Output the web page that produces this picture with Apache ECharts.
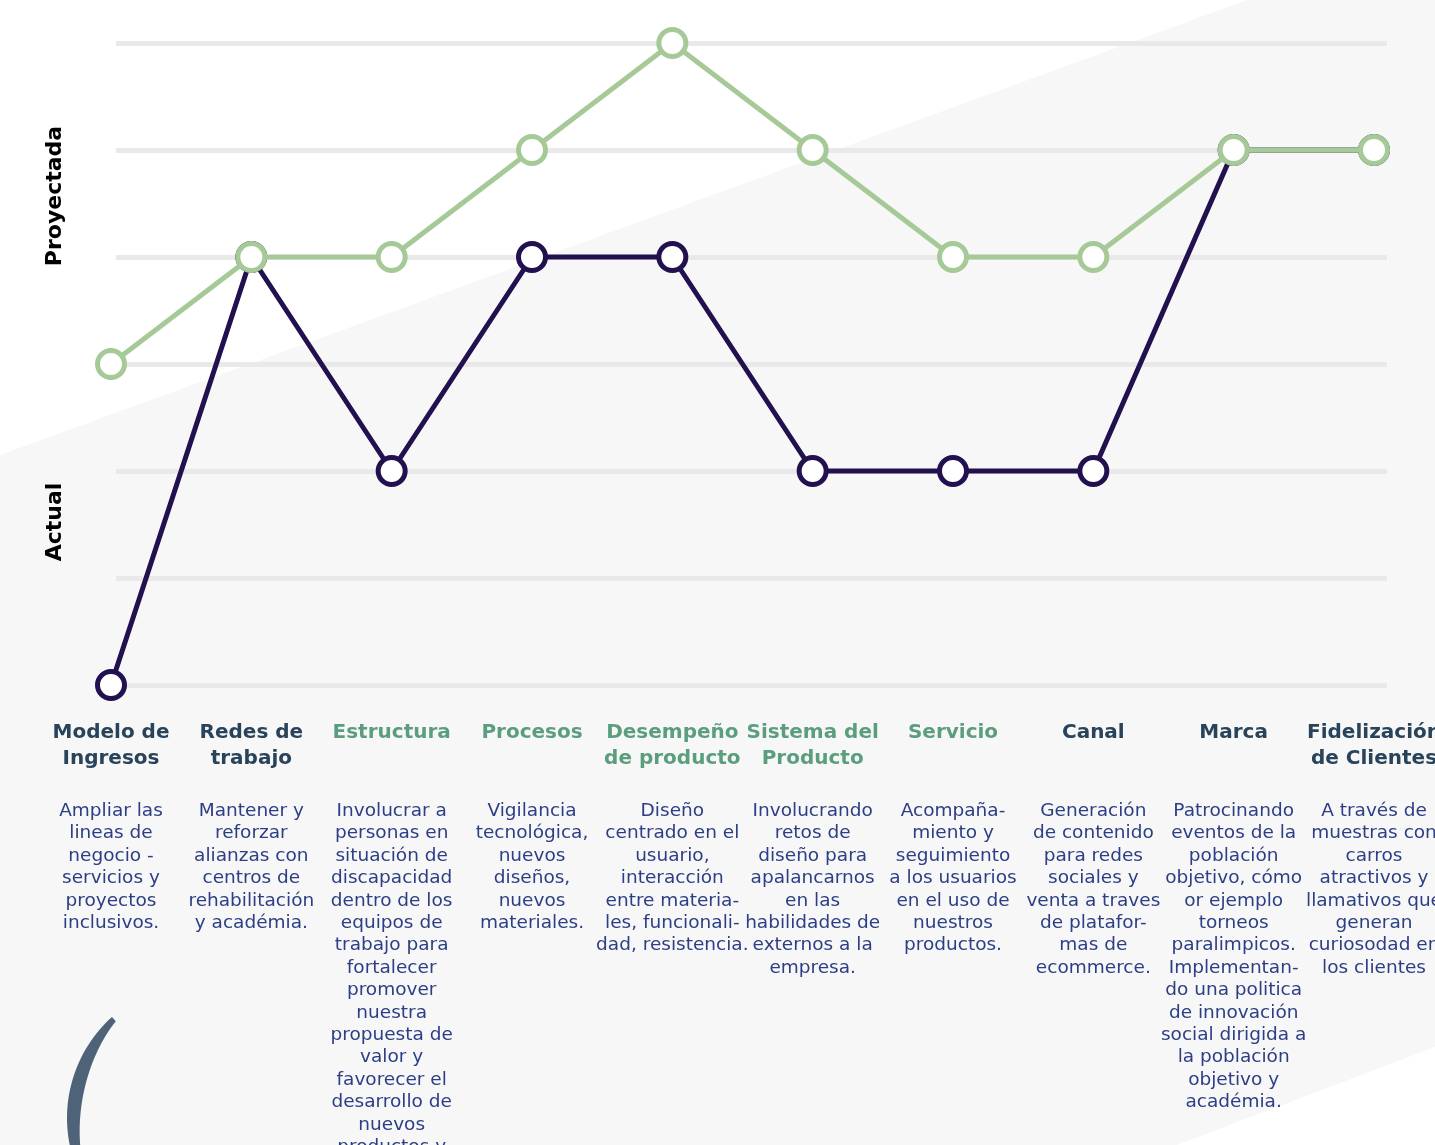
<!DOCTYPE html>
<html>
<head>
<meta charset="utf-8">
<script src="https://cdn.jsdelivr.net/npm/echarts@6/dist/echarts.min.js"></script>
<style>
  html, body { margin: 0; padding: 0; background: #fff; }
  #chart { width: 1435px; height: 1145px; }
</style>
</head>
<body>
<div id="chart"></div>
<script>
// ── Data ──────────────────────────────────────────────────────────────
const categories = [
  'Modelo de\nIngresos', 'Redes de\ntrabajo', 'Estructura', 'Procesos',
  'Desempeño\nde producto', 'Sistema del\nProducto', 'Servicio', 'Canal',
  'Marca', 'Fidelización\nde Clientes'
];
const descriptions = [
  'Ampliar las\nlineas de\nnegocio -\nservicios y\nproyectos\ninclusivos.',
  'Mantener y\nreforzar\nalianzas con\ncentros de\nrehabilitación\ny académia.',
  'Involucrar a\npersonas en\nsituación de\ndiscapacidad\ndentro de los\nequipos de\ntrabajo para\nfortalecer\npromover\nnuestra\npropuesta de\nvalor y\nfavorecer el\ndesarrollo de\nnuevos\nproductos y\nservicios.',
  'Vigilancia\ntecnológica,\nnuevos\ndiseños,\nnuevos\nmateriales.',
  'Diseño\ncentrado en el\nusuario,\ninteracción\nentre materia-\nles, funcionali-\ndad, resistencia.',
  'Involucrando\nretos de\ndiseño para\napalancarnos\nen las\nhabilidades de\nexternos a la\nempresa.',
  'Acompaña-\nmiento y\nseguimiento\na los usuarios\nen el uso de\nnuestros\nproductos.',
  'Generación\nde contenido\npara redes\nsociales y\nventa a traves\nde platafor-\nmas de\necommerce.',
  'Patrocinando\neventos de la\npoblación\nobjetivo, cómo\nor ejemplo\ntorneos\nparalimpicos.\nImplementan-\ndo una politica\nde innovación\nsocial dirigida a\nla población\nobjetivo y\nacadémia.',
  'A través de\nmuestras con\ncarros\natractivos y\nllamativos que\ngeneran\ncuriosodad en\nlos clientes'
];
const actual    = [0, 4, 2, 4, 4, 2, 2, 2, 5, 5];
const projected = [3, 4, 4, 5, 6, 5, 4, 4, 5, 5];
// categories whose title is printed in green
const greenTitles = [2, 3, 4, 5, 6];

// ── Style ─────────────────────────────────────────────────────────────
const FONT = '"DejaVu Sans", sans-serif';
const GREEN = '#a6ca97';
const PURPLE = '#23104f';
const NAVY = '#28435a';
const TEAL = '#5b9e7e';
const BLUE_TEXT = '#2c3e85';

// decorative crescent in the lower-left corner (tapered arc)
function crescentPoints() {
  const cx = 203, cy = 1118, R = 136;
  const a0 = 228 * Math.PI / 180, a1 = 150 * Math.PI / 180;
  const outer = [], inner = [];
  const n = 40;
  for (let k = 0; k <= n; k++) {
    const t = k / n;
    const a = a0 + (a1 - a0) * t;
    const w = 2 + 12 * Math.sin(Math.PI * Math.min(1, t * 0.85 + 0.1));
    outer.push([cx + R * Math.cos(a), cy + R * Math.sin(a)]);
    inner.push([cx + (R - w) * Math.cos(a), cy + (R - w) * Math.sin(a)]);
  }
  return outer.concat(inner.reverse());
}

const chart = echarts.init(document.getElementById('chart'), null, { renderer: 'canvas' });

chart.setOption({
  backgroundColor: '#fff',
  animation: false,
  textStyle: { fontFamily: FONT },
  graphic: [
    {
      type: 'polygon', z: -10, silent: true,
      shape: { points: [[0, 455], [1247, 0], [1435, 0], [1435, 1047], [1177, 1145], [0, 1145]] },
      style: { fill: '#f7f7f7' }
    },
    {
      type: 'polygon', z: -5, silent: true,
      shape: { points: crescentPoints() },
      style: { fill: '#4f6378' }
    },
    {
      type: 'text', x: 55, y: 196, rotation: Math.PI / 2,
      style: { text: 'Proyectada', font: 'bold 22px ' + FONT, fill: '#000', align: 'center', verticalAlign: 'middle' }
    },
    {
      type: 'text', x: 55, y: 522, rotation: Math.PI / 2,
      style: { text: 'Actual', font: 'bold 22px ' + FONT, fill: '#000', align: 'center', verticalAlign: 'middle' }
    }
  ],
  grid: [
    { left: 111, right: 61, top: 43, bottom: 460, outerBoundsMode: 'none' },
    { left: 116, right: 48, top: 43, bottom: 460, outerBoundsMode: 'none' }
  ],
  xAxis: [
    {
      type: 'category', gridIndex: 0, position: 'bottom', data: categories, boundaryGap: false,
      axisLine: { show: false }, axisTick: { show: false }, splitLine: { show: false },
      axisLabel: {
        interval: 0, margin: 35, fontSize: 20, fontWeight: 'bold', lineHeight: 26,
        fontFamily: FONT, align: 'center',
        color: (v, i) => greenTitles.includes(i) ? TEAL : NAVY
      }
    },
    {
      type: 'category', gridIndex: 0, position: 'bottom', data: categories, boundaryGap: false,
      axisLine: { show: false }, axisTick: { show: false }, splitLine: { show: false },
      axisLabel: {
        interval: 0, margin: 115, fontSize: 18.5, lineHeight: 22.4,
        fontFamily: FONT, color: BLUE_TEXT, align: 'center',
        formatter: (v, i) => descriptions[i]
      }
    },
    { type: 'value', gridIndex: 1, show: false }
  ],
  yAxis: [
    { type: 'value', gridIndex: 0, min: 0, max: 6, interval: 1, show: false, splitLine: { show: false } },
    {
      type: 'value', gridIndex: 1, min: 0, max: 6, interval: 1,
      axisLine: { show: false }, axisTick: { show: false }, axisLabel: { show: false },
      splitLine: { show: true, lineStyle: { color: '#e9e9e9', width: 5 } }
    }
  ],
  series: [
    {
      name: 'Actual', type: 'line', xAxisIndex: 0, yAxisIndex: 0, data: actual, z: 2,
      symbol: 'circle', symbolSize: 27, showAllSymbol: true,
      lineStyle: { color: PURPLE, width: 5 },
      itemStyle: { color: '#fff', borderColor: PURPLE, borderWidth: 5 }
    },
    {
      name: 'Proyectada', type: 'line', xAxisIndex: 0, yAxisIndex: 0, data: projected, z: 3,
      symbol: 'circle', symbolSize: 27, showAllSymbol: true,
      lineStyle: { color: GREEN, width: 5 },
      itemStyle: { color: '#fff', borderColor: GREEN, borderWidth: 5 }
    }
  ]
});
</script>
</body>
</html>
